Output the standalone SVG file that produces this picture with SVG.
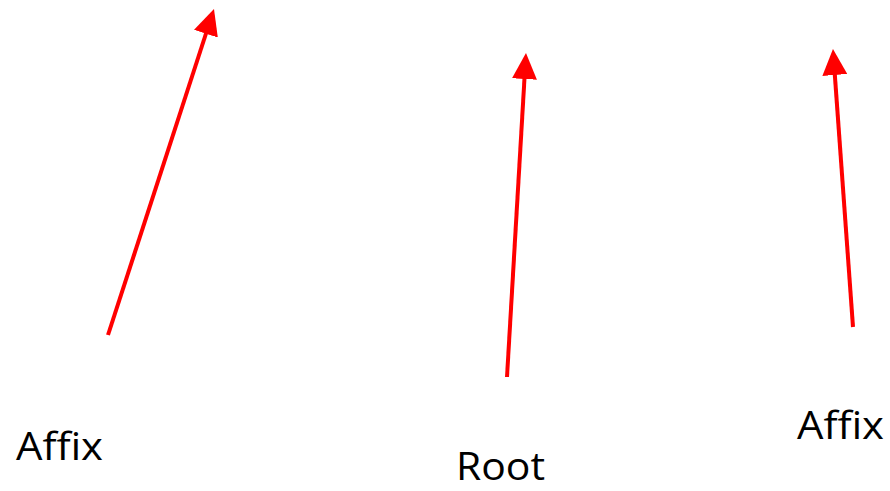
<svg xmlns="http://www.w3.org/2000/svg" width="890" height="491" viewBox="0 0 890 491">
<style>
.lbl{font-family:"Open Sans","Liberation Sans",sans-serif;font-size:38px;fill:#000}
.arr{stroke:#ff0000;stroke-width:4;fill:none;marker-end:url(#ah)}
</style>
<defs>
<marker id="ah" markerUnits="userSpaceOnUse" markerWidth="26" markerHeight="25" refX="6" refY="12.5" orient="auto" viewBox="0 0 26 25">
<path d="M0,0 L26,12.5 L0,25 z" fill="#ff0000"/>
</marker>
</defs>
<rect width="890" height="491" fill="#fff"/>
<g id="connectors">
<line class="arr" x1="108" y1="335" x2="207.8" y2="28"/>
<line class="arr" x1="507" y1="377" x2="524.8" y2="73"/>
<line class="arr" x1="853" y1="327" x2="834.4" y2="69"/>
</g>
<g id="affix1"><text class="lbl" x="16" y="460" textLength="87" lengthAdjust="spacingAndGlyphs">Affix</text></g>
<g id="root"><text class="lbl" x="456" y="480" textLength="89" lengthAdjust="spacingAndGlyphs">Root</text></g>
<g id="affix2"><text class="lbl" x="797" y="439" textLength="87" lengthAdjust="spacingAndGlyphs">Affix</text></g>
</svg>
